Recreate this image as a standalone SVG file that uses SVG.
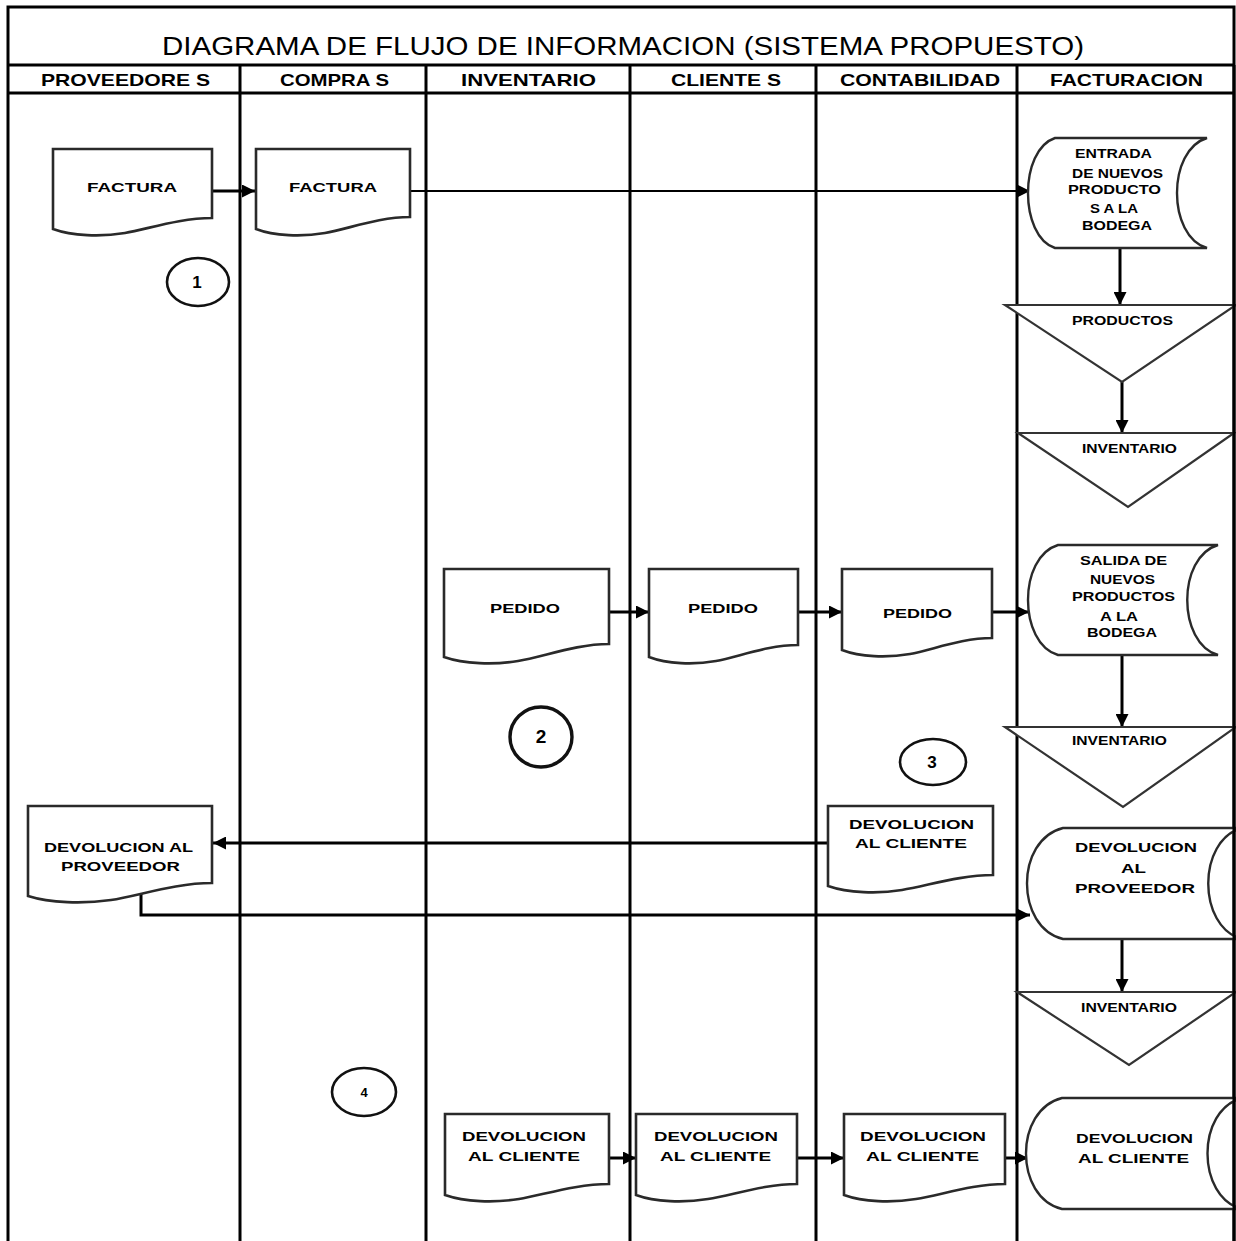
<svg xmlns="http://www.w3.org/2000/svg" width="1236" height="1241" viewBox="0 0 1236 1241">
  <style>
    .grid { stroke: #000; stroke-width: 3; fill: none; }
    .doc { fill: #fff; stroke: #2a2a2a; stroke-width: 2.6; stroke-linejoin: miter; }
    .store { fill: #fff; stroke: #2a2a2a; stroke-width: 2.4; }
    .tri { fill: #fff; stroke: #333; stroke-width: 2.2; stroke-linejoin: miter; }
    .circ { fill: #fff; stroke: #111; stroke-width: 2.6; }
    .conn { fill: none; stroke: #000; stroke-width: 3; }
    .thin { stroke-width: 2; }
    .title { font-family: "Liberation Sans", Arial, sans-serif; font-size: 25px; fill: #000; }
    .head { font-family: "Liberation Sans", Arial, sans-serif; font-size: 17px; font-weight: bold; fill: #000; }
    .lbl { font-family: "Liberation Sans", Arial, sans-serif; font-size: 13px; font-weight: bold; fill: #000; }
    .num { font-family: "Liberation Sans", Arial, sans-serif; font-size: 17px; font-weight: bold; fill: #000; text-anchor: middle; }
  </style>
  <defs>
    <marker id="arrow" viewBox="0 0 12 12" refX="12" refY="6" markerWidth="13" markerHeight="13" markerUnits="userSpaceOnUse" orient="auto">
      <path d="M0,0 L12,6 L0,12 Z" fill="#000"/>
    </marker>
  </defs>

  <rect width="1236" height="1241" fill="#fff"/>

  <!-- swimlane frame -->
  <g id="frame">
    <path class="grid" d="M8,1241 V7 H1234 V1241"/>
    <path class="grid" d="M8,65 H1234 M8,93 H1234"/>
    <path class="grid" d="M240,65 V1241 M426,65 V1241 M630,65 V1241 M816,65 V1241 M1017,65 V1241"/>
    <text class="title" x="162" y="55" textLength="922" lengthAdjust="spacingAndGlyphs">DIAGRAMA DE FLUJO DE INFORMACION (SISTEMA PROPUESTO)</text>
    <text class="head" x="41" y="86" textLength="169" lengthAdjust="spacingAndGlyphs">PROVEEDORE S</text>
    <text class="head" x="280" y="86" textLength="109" lengthAdjust="spacingAndGlyphs">COMPRA S</text>
    <text class="head" x="461" y="86" textLength="135" lengthAdjust="spacingAndGlyphs">INVENTARIO</text>
    <text class="head" x="671" y="86" textLength="110" lengthAdjust="spacingAndGlyphs">CLIENTE S</text>
    <text class="head" x="840" y="86" textLength="160" lengthAdjust="spacingAndGlyphs">CONTABILIDAD</text>
    <text class="head" x="1050" y="86" textLength="153" lengthAdjust="spacingAndGlyphs">FACTURACION</text>
  </g>

  <!-- connectors -->
  <g id="connectors">
    <path class="conn" d="M212,191 H255" marker-end="url(#arrow)"/>
    <path class="conn thin" d="M410,191 H1030" marker-end="url(#arrow)"/>
    <path class="conn" d="M1120,248 V305" marker-end="url(#arrow)"/>
    <path class="conn" d="M1122,382 V433" marker-end="url(#arrow)"/>
    <path class="conn" d="M609,612 H649" marker-end="url(#arrow)"/>
    <path class="conn" d="M798,612 H842" marker-end="url(#arrow)"/>
    <path class="conn" d="M992,612 H1029" marker-end="url(#arrow)"/>
    <path class="conn" d="M1122,655 V727" marker-end="url(#arrow)"/>
    <path class="conn" d="M828,843 H213" marker-end="url(#arrow)"/>
    <path class="conn" d="M141,893 V915 H1030" marker-end="url(#arrow)"/>
    <path class="conn" d="M1122,939 V992" marker-end="url(#arrow)"/>
    <path class="conn" d="M609,1158 H636" marker-end="url(#arrow)"/>
    <path class="conn" d="M797,1158 H844" marker-end="url(#arrow)"/>
    <path class="conn" d="M1005,1158 H1028" marker-end="url(#arrow)"/>
  </g>

  <!-- proveedores -->
  <g id="factura-proveedor">
    <path class="doc" d="M53,229 V149 H212 V218 C180,218 148,229 125,233 C101,237 72,236 53,229 Z"/>
    <text class="lbl" x="87" y="192" textLength="90" lengthAdjust="spacingAndGlyphs">FACTURA</text>
  </g>
  <g id="paso-1">
    <ellipse class="circ" cx="198" cy="282" rx="31" ry="24"/>
    <text class="num" x="197" y="288">1</text>
  </g>
  <g id="devolucion-proveedor-doc">
    <path class="doc" d="M28,896 V806 H212 V883 C175,883 138,896 111,900 C83,904 50,903 28,896 Z"/>
    <text class="lbl" x="44" y="852" textLength="149" lengthAdjust="spacingAndGlyphs">DEVOLUCION AL</text>
    <text class="lbl" x="61" y="871" textLength="119" lengthAdjust="spacingAndGlyphs">PROVEEDOR</text>
  </g>

  <!-- compras -->
  <g id="factura-compras">
    <path class="doc" d="M256,229 V149 H410 V217 C379,217 348,229 325,233 C302,237 274,236 256,229 Z"/>
    <text class="lbl" x="289" y="192" textLength="88" lengthAdjust="spacingAndGlyphs">FACTURA</text>
  </g>
  <g id="paso-4">
    <ellipse class="circ" cx="364" cy="1092" rx="32" ry="24"/>
    <text class="num" x="364" y="1097" style="font-size:13px">4</text>
  </g>

  <!-- inventario -->
  <g id="pedido-inventario">
    <path class="doc" d="M444,657 V569 H609 V644 C576,644 543,657 518,661 C494,665 464,664 444,657 Z"/>
    <text class="lbl" x="490" y="613" textLength="70" lengthAdjust="spacingAndGlyphs">PEDIDO</text>
  </g>
  <g id="paso-2">
    <ellipse class="circ" cx="541" cy="737" rx="31" ry="30" style="stroke-width:3.4"/>
    <text class="num" x="541" y="743" style="font-size:19px">2</text>
  </g>
  <g id="devolucion-cliente-inventario">
    <path class="doc" d="M445,1195 V1114 H609 V1184 C576,1184 543,1195 519,1199 C494,1203 465,1202 445,1195 Z"/>
    <text class="lbl" x="462" y="1141" textLength="124" lengthAdjust="spacingAndGlyphs">DEVOLUCION</text>
    <text class="lbl" x="468" y="1161" textLength="112" lengthAdjust="spacingAndGlyphs">AL CLIENTE</text>
  </g>

  <!-- clientes -->
  <g id="pedido-clientes">
    <path class="doc" d="M649,657 V569 H798 V645 C768,645 738,657 716,661 C694,665 667,664 649,657 Z"/>
    <text class="lbl" x="688" y="613" textLength="70" lengthAdjust="spacingAndGlyphs">PEDIDO</text>
  </g>
  <g id="devolucion-cliente-clientes">
    <path class="doc" d="M636,1195 V1114 H797 V1184 C765,1184 733,1195 708,1199 C684,1203 655,1202 636,1195 Z"/>
    <text class="lbl" x="654" y="1141" textLength="124" lengthAdjust="spacingAndGlyphs">DEVOLUCION</text>
    <text class="lbl" x="660" y="1161" textLength="111" lengthAdjust="spacingAndGlyphs">AL CLIENTE</text>
  </g>

  <!-- contabilidad -->
  <g id="pedido-contabilidad">
    <path class="doc" d="M842,650 V569 H992 V638 C962,638 932,650 910,654 C887,658 860,657 842,650 Z"/>
    <text class="lbl" x="883" y="618" textLength="69" lengthAdjust="spacingAndGlyphs">PEDIDO</text>
  </g>
  <g id="paso-3">
    <ellipse class="circ" cx="933" cy="762" rx="33" ry="23"/>
    <text class="num" x="932" y="768">3</text>
  </g>
  <g id="devolucion-cliente-contabilidad">
    <path class="doc" d="M828,886 V806 H993 V875 C960,875 927,886 902,890 C878,894 848,893 828,886 Z"/>
    <text class="lbl" x="849" y="829" textLength="125" lengthAdjust="spacingAndGlyphs">DEVOLUCION</text>
    <text class="lbl" x="855" y="848" textLength="112" lengthAdjust="spacingAndGlyphs">AL CLIENTE</text>
  </g>
  <g id="devolucion-cliente-contab-2">
    <path class="doc" d="M844,1195 V1114 H1005 V1184 C973,1184 941,1195 916,1199 C892,1203 863,1202 844,1195 Z"/>
    <text class="lbl" x="860" y="1141" textLength="126" lengthAdjust="spacingAndGlyphs">DEVOLUCION</text>
    <text class="lbl" x="866" y="1161" textLength="113" lengthAdjust="spacingAndGlyphs">AL CLIENTE</text>
  </g>

  <!-- facturacion -->
  <g id="entrada-bodega">
    <path class="store" d="M1055,138 H1207 C1167,150 1167,236 1207,248 H1055 C1019,236 1019,150 1055,138 Z"/>
    <text class="lbl" x="1075" y="158" textLength="77" lengthAdjust="spacingAndGlyphs">ENTRADA</text>
    <text class="lbl" x="1072" y="178" textLength="91" lengthAdjust="spacingAndGlyphs">DE NUEVOS</text>
    <text class="lbl" x="1068" y="194" textLength="93" lengthAdjust="spacingAndGlyphs">PRODUCTO</text>
    <text class="lbl" x="1090" y="213" textLength="48" lengthAdjust="spacingAndGlyphs">S A LA</text>
    <text class="lbl" x="1082" y="230" textLength="70" lengthAdjust="spacingAndGlyphs">BODEGA</text>
  </g>
  <g id="productos">
    <path class="tri" d="M1005,305 H1236 L1122,382 Z"/>
    <text class="lbl" x="1072" y="325" textLength="101" lengthAdjust="spacingAndGlyphs">PRODUCTOS</text>
  </g>
  <g id="inventario-1">
    <path class="tri" d="M1018,433 H1234 L1128,507 Z"/>
    <text class="lbl" x="1082" y="453" textLength="95" lengthAdjust="spacingAndGlyphs">INVENTARIO</text>
  </g>
  <g id="salida-bodega">
    <path class="store" d="M1058,545 H1218 C1177,557 1177,643 1218,655 H1058 C1018,643 1018,557 1058,545 Z"/>
    <text class="lbl" x="1080" y="565" textLength="87" lengthAdjust="spacingAndGlyphs">SALIDA DE</text>
    <text class="lbl" x="1090" y="584" textLength="65" lengthAdjust="spacingAndGlyphs">NUEVOS</text>
    <text class="lbl" x="1072" y="601" textLength="103" lengthAdjust="spacingAndGlyphs">PRODUCTOS</text>
    <text class="lbl" x="1100" y="621" textLength="38" lengthAdjust="spacingAndGlyphs">A LA</text>
    <text class="lbl" x="1087" y="637" textLength="70" lengthAdjust="spacingAndGlyphs">BODEGA</text>
  </g>
  <g id="inventario-2">
    <path class="tri" d="M1005,727 H1236 L1123,807 Z"/>
    <text class="lbl" x="1072" y="745" textLength="95" lengthAdjust="spacingAndGlyphs">INVENTARIO</text>
  </g>
  <g id="devolucion-proveedor-registro">
    <path class="store" d="M1063,828 H1242 C1197,840 1197,927 1242,939 H1063 C1015,927 1015,840 1063,828 Z"/>
    <text class="lbl" x="1075" y="852" textLength="122" lengthAdjust="spacingAndGlyphs">DEVOLUCION</text>
    <text class="lbl" x="1121" y="873" textLength="25" lengthAdjust="spacingAndGlyphs">AL</text>
    <text class="lbl" x="1075" y="893" textLength="120" lengthAdjust="spacingAndGlyphs">PROVEEDOR</text>
  </g>
  <g id="inventario-3">
    <path class="tri" d="M1017,992 H1236 L1129,1065 Z"/>
    <text class="lbl" x="1081" y="1012" textLength="96" lengthAdjust="spacingAndGlyphs">INVENTARIO</text>
  </g>
  <g id="devolucion-cliente-registro">
    <path class="store" d="M1062,1098 H1242 C1196,1110 1196,1197 1242,1209 H1062 C1014,1197 1014,1110 1062,1098 Z"/>
    <text class="lbl" x="1076" y="1143" textLength="117" lengthAdjust="spacingAndGlyphs">DEVOLUCION</text>
    <text class="lbl" x="1078" y="1163" textLength="111" lengthAdjust="spacingAndGlyphs">AL CLIENTE</text>
  </g>

  <!-- right border drawn over shapes that run off the lane -->
  <path class="grid" d="M1234,65 V1241"/>
</svg>
